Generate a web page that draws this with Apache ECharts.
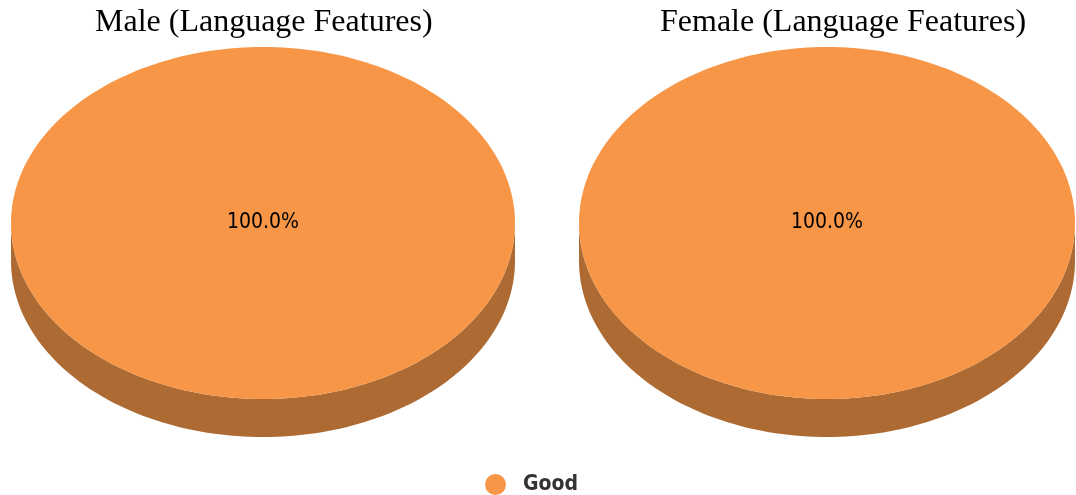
<!DOCTYPE html>
<html>
<head>
    <meta charset="utf-8">
    <title>Language Features</title>
    <script src="https://cdn.jsdelivr.net/npm/echarts@6/dist/echarts.min.js"></script>
    <style>
        html, body { margin: 0; padding: 0; background: #fff; }
        #main { width: 1076px; height: 495px; }
    </style>
</head>
<body>
<div id="main"></div>
<script>
    // data
    var categories = ['Good'];
    var maleValues = [100];
    var femaleValues = [100];
    var chartTitles = ['Male (Language Features)', 'Female (Language Features)'];

    var topColors = ['#f79646'];
    var sideColors = ['#ad6a33'];

    // elliptical "3d" pie drawn by a custom series
    function makePie(values, cx, cy, rx, ry, depth) {
        var total = 0;
        for (var i = 0; i < values.length; i++) total += values[i];

        function pt(a, dy) {
            return [cx + rx * Math.cos(a), cy + ry * Math.sin(a) + (dy || 0)];
        }

        return function (params, api) {
            var idx = params.dataIndex;
            var before = 0;
            for (var i = 0; i < idx; i++) before += values[i];
            var share = api.value(1) / total;
            var start = -Math.PI / 2 + before / total * Math.PI * 2;
            var end = start + share * Math.PI * 2;
            var children = [];

            // side wall on the front half (0..PI in screen angles)
            for (var k = -1; k <= 1; k++) {
                var s = Math.max(start, k * Math.PI * 2);
                var e = Math.min(end, k * Math.PI * 2 + Math.PI);
                if (e <= s) continue;
                var pts = [];
                var n = 120;
                for (var j = 0; j <= n; j++) pts.push(pt(s + (e - s) * j / n));
                for (var j = n; j >= 0; j--) pts.push(pt(s + (e - s) * j / n, depth));
                children.push({
                    type: 'polygon',
                    shape: { points: pts },
                    style: { fill: sideColors[idx % sideColors.length] }
                });
            }

            // top face
            var top = [];
            if (share < 1) top.push([cx, cy]);
            var m = 240;
            for (var j = 0; j <= m; j++) top.push(pt(start + (end - start) * j / m));
            children.push({
                type: 'polygon',
                shape: { points: top },
                style: { fill: topColors[idx % topColors.length] }
            });

            // label
            var mid = (start + end) / 2;
            var lx = share >= 1 ? cx : cx + rx * 0.6 * Math.cos(mid);
            var ly = share >= 1 ? cy : cy + ry * 0.6 * Math.sin(mid);
            children.push({
                type: 'text',
                x: lx,
                y: ly,
                style: {
                    text: (share * 100).toFixed(1) + '%',
                    fill: '#000',
                    font: '21px "DejaVu Sans Condensed", "DejaVu Sans"',
                    align: 'center',
                    verticalAlign: 'middle'
                }
            });

            return { type: 'group', children: children };
        };
    }

    function seriesData(values) {
        var out = [];
        for (var i = 0; i < values.length; i++) out.push([i, values[i]]);
        return out;
    }

    var titleStyle = { fontFamily: 'Liberation Serif', fontSize: 32, fontWeight: 'normal', color: '#000' };

    var myChart = echarts.init(document.getElementById('main'));
    var option = {
        animation: false,
        title: [
            { text: chartTitles[0], left: 95, top: 7, padding: 0, textStyle: titleStyle },
            { text: chartTitles[1], left: 660, top: 7, padding: 0, textStyle: titleStyle }
        ],
        legend: {
            data: categories,
            left: 485,
            top: 474,
            padding: 0,
            icon: 'circle',
            itemWidth: 21,
            itemHeight: 21,
            textStyle: {
                fontFamily: 'DejaVu Sans Condensed',
                fontSize: 21,
                fontWeight: 'bold',
                color: '#333',
                padding: [0, 0, 0, 12]
            }
        },
        series: [
            {
                name: categories[0],
                type: 'custom',
                coordinateSystem: 'none',
                itemStyle: { color: topColors[0] },
                renderItem: makePie(maleValues, 263, 223, 252, 176, 38),
                data: seriesData(maleValues)
            },
            {
                name: categories[0],
                type: 'custom',
                coordinateSystem: 'none',
                itemStyle: { color: topColors[0] },
                renderItem: makePie(femaleValues, 827, 223, 248, 176, 38),
                data: seriesData(femaleValues)
            }
        ]
    };
    myChart.setOption(option);
</script>
</body>
</html>
